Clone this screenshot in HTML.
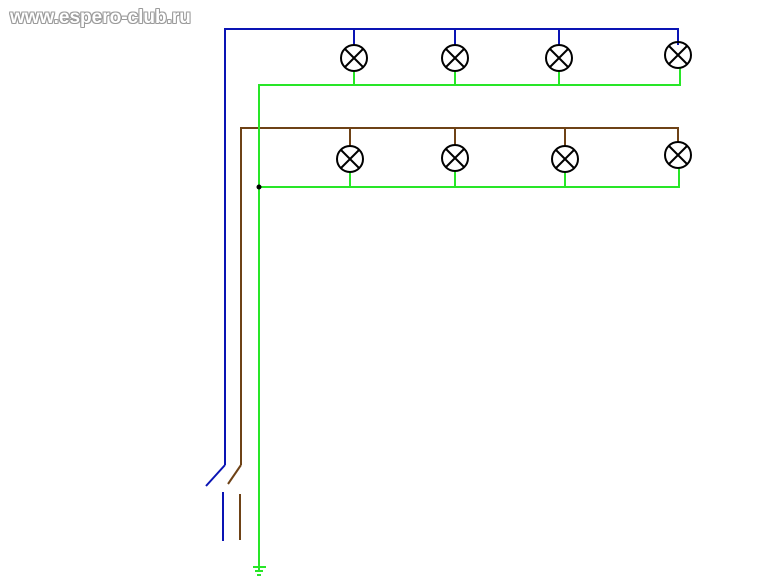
<!DOCTYPE html>
<html><head><meta charset="utf-8"><style>
html,body{margin:0;padding:0;background:#fff;width:776px;height:588px;overflow:hidden}
svg{position:absolute;left:0;top:0}
.wm{position:absolute;left:10px;top:7px;font:bold 19px "Liberation Sans",sans-serif;color:#fff;letter-spacing:0px;
text-shadow:1px 0 #999,-1px 0 #999,0 1px #999,0 -1px #999,1px 1px #aaa,-1px -1px #aaa,1px -1px #aaa,-1px 1px #aaa}
</style></head><body>
<svg width="776" height="588" viewBox="0 0 776 588">
<g fill="none" stroke-width="2">
<path d="M225 465 V29 H678 V45" stroke="#0a14b4"/>
<path d="M354 29 V45 M455 29 V45 M559 29 V45" stroke="#0a14b4"/>
<path d="M225 465 L206 486" stroke="#0a14b4"/>
<path d="M223 492 V541" stroke="#0a14b4"/>
<path d="M241 465 V128 H678 V143" stroke="#6e4216"/>
<path d="M350 128 V146 M455 128 V145 M565 128 V146" stroke="#6e4216"/>
<path d="M241 465 L228 484" stroke="#6e4216"/>
<path d="M240 494 V540" stroke="#6e4216"/>
<path d="M259 570 V85 H680 V68" stroke="#28e628"/>
<path d="M354 85 V71 M455 85 V71 M559 85 V71" stroke="#28e628"/>
<path d="M259 187 H679 V168" stroke="#28e628"/>
<path d="M350 187 V172 M455 187 V171 M565 187 V172" stroke="#28e628"/>
<path d="M253 567 H266 M255 571 H263 M257 575 H261" stroke="#28e628"/>
</g>
<circle cx="259" cy="187" r="2.5" fill="#000"/>
<g fill="none" stroke="#000" stroke-width="2">
<g transform="translate(354,58)"><circle r="13"/><path d="M-9 -9 L9 9 M9 -9 L-9 9"/></g>
<g transform="translate(455,58)"><circle r="13"/><path d="M-9 -9 L9 9 M9 -9 L-9 9"/></g>
<g transform="translate(559,58)"><circle r="13"/><path d="M-9 -9 L9 9 M9 -9 L-9 9"/></g>
<g transform="translate(678,55)"><circle r="13"/><path d="M-9 -9 L9 9 M9 -9 L-9 9"/></g>
<g transform="translate(350,159)"><circle r="13"/><path d="M-9 -9 L9 9 M9 -9 L-9 9"/></g>
<g transform="translate(455,158)"><circle r="13"/><path d="M-9 -9 L9 9 M9 -9 L-9 9"/></g>
<g transform="translate(565,159)"><circle r="13"/><path d="M-9 -9 L9 9 M9 -9 L-9 9"/></g>
<g transform="translate(678,155)"><circle r="13"/><path d="M-9 -9 L9 9 M9 -9 L-9 9"/></g>
</g>
</svg>
<div class="wm">www.espero-club.ru</div>
</body></html>
